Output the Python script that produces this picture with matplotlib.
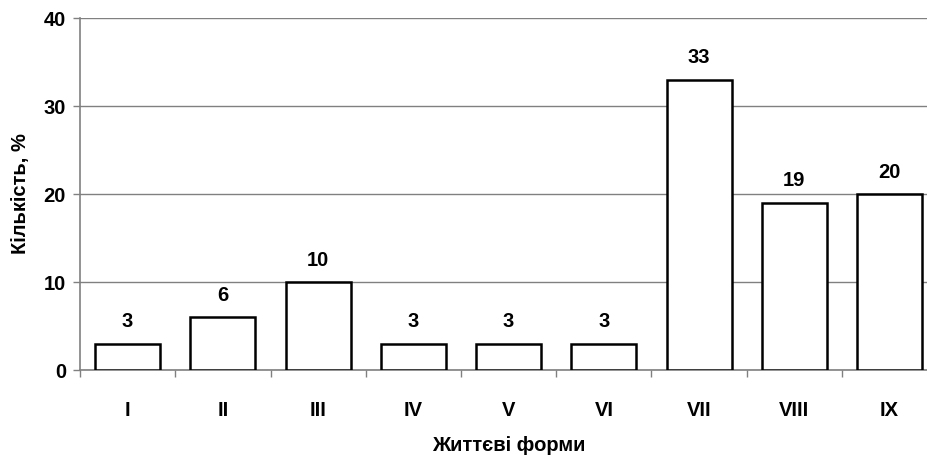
import matplotlib
matplotlib.use("Agg")
import matplotlib.pyplot as plt
import numpy as np

categories = ["I", "II", "III", "IV", "V", "VI", "VII", "VIII", "IX"]
values = [3, 6, 10, 3, 3, 3, 33, 19, 20]
yticks = [0, 10, 20, 30, 40]

plt.rcParams['font.family'] = ['Liberation Sans', 'DejaVu Sans']
FS = 14.5

fig = plt.figure(figsize=(9.28, 4.55), dpi=100)
W, H = 928, 455
left_px, right_px, top_px, bottom_px = 80, 937.25, 18, 370
ax = fig.add_axes([left_px / W, 1 - bottom_px / H, (right_px - left_px) / W, (bottom_px - top_px) / H])

x = np.arange(len(categories))
bars = ax.bar(x, values, width=0.68, color="white", edgecolor="black", linewidth=1.8, zorder=3)

for xi, v in zip(x, values):
    ax.annotate(str(v), (xi, v), xytext=(0, 9), textcoords="offset points",
                ha="center", va="bottom", fontsize=FS, fontweight="bold")

ax.set_xlim(-0.5, len(categories) - 0.5)
ax.set_ylim(0, 40)
ax.set_yticks(yticks)
ax.set_yticklabels([str(t) for t in yticks], fontsize=FS, fontweight="bold")
ax.yaxis.grid(True, color="#808080", linewidth=1.0, zorder=0)

ax.set_xticks(x)
ax.set_xticklabels(categories, fontsize=FS, fontweight="bold")
ax.set_xticks(np.arange(len(categories) + 1) - 0.5, minor=True)
ax.tick_params(axis="x", which="major", length=0, pad=22)
ax.tick_params(axis="x", which="minor", length=5, color="#808080", width=1)
ax.tick_params(axis="y", length=5, color="#808080", width=1, pad=5)

for s in ["top", "right"]:
    ax.spines[s].set_visible(False)
for s in ["left", "bottom"]:
    ax.spines[s].set_color("#808080")
    ax.spines[s].set_linewidth(1.2)

ax.set_xlabel("Життєві форми", fontsize=FS, fontweight="bold", labelpad=12)
ax.set_ylabel("Кількість, %", fontsize=FS, fontweight="bold", labelpad=10)

fig.savefig("out.png", dpi=100)
